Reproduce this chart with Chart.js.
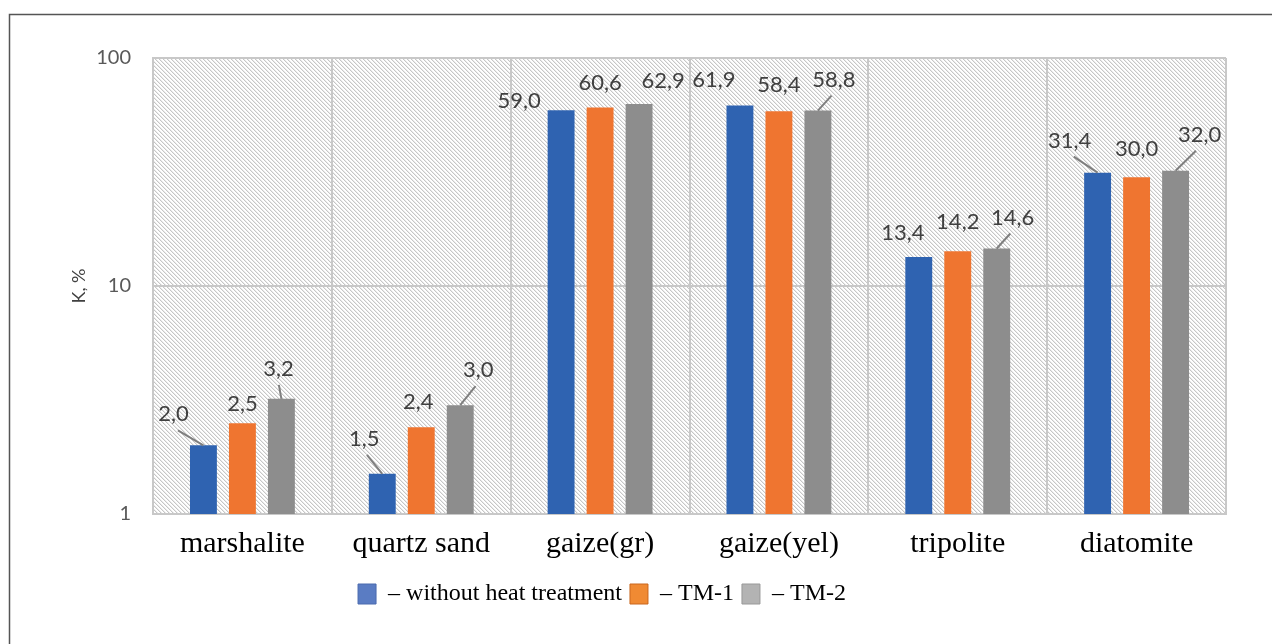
<!DOCTYPE html>
<html>
<head>
<meta charset="utf-8">
<script src="https://cdn.jsdelivr.net/npm/chart.js@4.4.1/dist/chart.umd.min.js"></script>
<style>
    html, body { margin: 0; padding: 0; background: #fff; }
    #wrap { width: 1281px; height: 644px; position: relative; }
</style>
</head>
<body>
<div id="wrap"><canvas id="kChart"></canvas></div>
<script>
// Chart data
const categories = ["marshalite", "quartz sand", "gaize(gr)", "gaize(yel)", "tripolite", "diatomite"];
const seriesNames = ["without heat treatment", "TM-1", "TM-2"];
const noHeat = [2.0, 1.5, 59.0, 61.9, 13.4, 31.4];
const tm1 = [2.5, 2.4, 60.6, 58.4, 14.2, 30.0];
const tm2 = [3.2, 3.0, 62.9, 58.8, 14.6, 32.0];
const yTicks = [1, 10, 100];

// Styling
const barColors = ["#2f63b1", "#ef7530", "#8d8d8d"];
const legendFill = ["#5a7cc3", "#f08a33", "#b3b3b3"];
const legendStroke = ["#4a6aae", "#c9661e", "#999999"];
const gridColor = "#c8c8c8";

// label offsets from the bar top: [dx, dy, leader line]
const labelNudge = [
    [[-30, -31, 1], [-18, -35, 1], [-42, -9, 0], [-26, -26, 0], [-16, -24, 0], [-28, -32, 1]],
    [[0, -19, 0], [-3, -25, 0], [0, -25, 0], [0, -26, 0], [0, -29, 0], [0, -28, 0]],
    [[-3, -30, 1], [18, -35, 1], [24, -23, 0], [16, -31, 1], [16, -31, 1], [24, -36, 1]]
];

function makeHatch(ctx) {
    const tile = document.createElement("canvas");
    tile.width = 4;
    tile.height = 4;
    const t = tile.getContext("2d");
    t.fillStyle = "#ffffff";
    t.fillRect(0, 0, 4, 4);
    for (let i = 0; i < 4; i++) {
        t.fillStyle = "#c6c6c6";
        t.fillRect(i, i, 1, 1);
        t.fillStyle = "#ebebeb";
        t.fillRect((i + 1) % 4, i, 1, 1);
    }
    return ctx.createPattern(tile, "repeat");
}

const backdropPlugin = {
    id: "backdrop",
    afterLayout(chart) {
        // the legend sits a bit left of centre in the original
        chart.legend.left -= 43;
        chart.legend.right -= 43;
    },
    beforeDraw(chart) {
        const { ctx, chartArea: a } = chart;
        ctx.save();
        ctx.fillStyle = "#ffffff";
        ctx.fillRect(0, 0, chart.width, chart.height);
        ctx.fillStyle = makeHatch(ctx);
        ctx.fillRect(a.left, a.top, a.right - a.left, a.bottom - a.top);
        // outer frame (top and left only)
        ctx.strokeStyle = "#555555";
        ctx.lineWidth = 1.5;
        ctx.beginPath();
        ctx.moveTo(9.5, 644);
        ctx.lineTo(9.5, 14.5);
        ctx.lineTo(1272, 14.5);
        ctx.stroke();
        ctx.restore();
    }
};

const valueLabelPlugin = {
    id: "valueLabels",
    afterDatasetsDraw(chart) {
        const ctx = chart.ctx;
        ctx.save();
        ctx.font = "22px Lato";
        ctx.fillStyle = "#404040";
        ctx.textAlign = "center";
        ctx.textBaseline = "middle";
        chart.data.datasets.forEach((ds, di) => {
            chart.getDatasetMeta(di).data.forEach((bar, i) => {
                const [dx, dy, leader] = labelNudge[di][i];
                const lx = bar.x + dx;
                const ly = bar.y + dy;
                if (leader) {
                    ctx.strokeStyle = "#7f7f7f";
                    ctx.lineWidth = 2;
                    ctx.beginPath();
                    ctx.moveTo(bar.x, bar.y);
                    ctx.lineTo(lx + (bar.x - lx) * 0.15, ly + 16);
                    ctx.stroke();
                }
                ctx.fillText(ds.data[i].toFixed(1).replace(".", ","), lx, ly);
            });
        });
        ctx.restore();
    }
};

const seriesValues = [noHeat, tm1, tm2];

new Chart(document.getElementById("kChart"), {
    type: "bar",
    data: {
        labels: categories,
        datasets: seriesValues.map((vals, i) => ({
            label: seriesNames[i],
            data: vals,
            backgroundColor: barColors[i],
            borderWidth: 0,
            categoryPercentage: 0.654,
            barPercentage: 0.69
        }))
    },
    options: {
        responsive: true,
        maintainAspectRatio: false,
        animation: false,
        layout: { padding: { top: 58, left: 64, right: 55, bottom: 28 } },
        plugins: {
            tooltip: { enabled: false },
            legend: {
                position: "bottom",
                labels: {
                    boxWidth: 18,
                    boxHeight: 20,
                    padding: 8,
                    color: "#000000",
                    font: { family: "'Liberation Serif', 'Times New Roman', serif", size: 24 },
                    generateLabels: () => seriesNames.map((name, i) => ({
                        text: "\u2013 " + name,
                        fillStyle: legendFill[i],
                        strokeStyle: legendStroke[i],
                        lineWidth: 1,
                        fontColor: "#000000",
                        datasetIndex: i
                    }))
                }
            }
        },
        scales: {
            x: {
                grid: { offset: true, color: gridColor, lineWidth: 2, drawTicks: false },
                border: { color: gridColor, width: 2 },
                ticks: {
                    color: "#000000",
                    padding: 12,
                    font: { family: "'Liberation Serif', 'Times New Roman', serif", size: 30 }
                }
            },
            y: {
                type: "logarithmic",
                min: 1,
                max: 100,
                afterBuildTicks: (axis) => {
                    axis.ticks = yTicks.map((v) => ({ value: v }));
                },
                afterFit: (axis) => {
                    axis.width = 89;
                },
                grid: { color: gridColor, lineWidth: 2, drawTicks: false },
                border: { color: gridColor, width: 2 },
                ticks: {
                    color: "#595959",
                    padding: 22,
                    font: { family: "Lato", size: 20 },
                    callback: (v) => String(v)
                },
                title: {
                    display: true,
                    text: "K, %",
                    color: "#404040",
                    font: { family: "Lato", size: 18 }
                }
            }
        }
    },
    plugins: [backdropPlugin, valueLabelPlugin]
});
</script>
</body>
</html>
